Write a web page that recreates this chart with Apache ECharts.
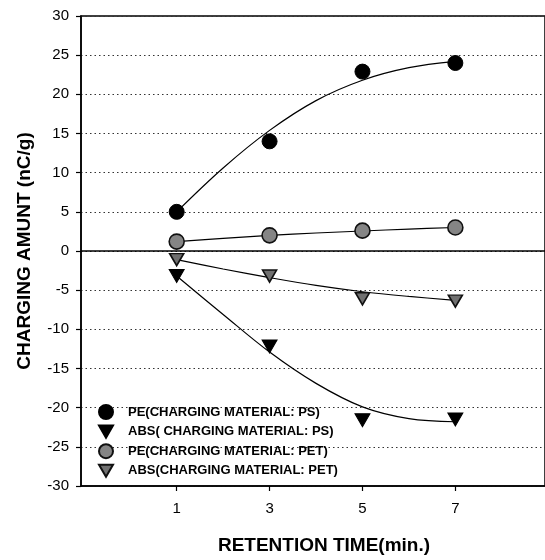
<!DOCTYPE html>
<html>
<head>
<meta charset="utf-8">
<script src="https://cdn.jsdelivr.net/npm/echarts@6/dist/echarts.min.js"></script>
<style>
html,body{margin:0;padding:0;background:#fff;}
#chart{width:545px;height:560px;}
</style>
</head>
<body>
<div id="chart"></div>
<script>
// ---- data ----
var times = [1, 3, 5, 7];
var pePS = [5.0, 14.0, 22.9, 24.0];
var absPS = [-3.2, -12.2, -21.6, -21.5];
var pePET = [1.2, 2.0, 2.6, 3.0];
var absPET = [-1.1, -3.2, -6.1, -6.4];

// fitted trend curves
var fitTimes = [1, 2, 3, 4, 5, 6, 7];
var pePSFit = [5.0, 10.6, 15.4, 19.2, 21.8, 23.4, 24.2];
var absPSFit = [-3.2, -8.1, -12.9, -16.9, -19.9, -21.4, -21.8];
var pePETFit = [1.2, 1.6, 2.0, 2.3, 2.55, 2.8, 3.0];
var absPETFit = [-1.1, -2.3, -3.4, -4.4, -5.2, -5.8, -6.3];

var xTicks = [1, 3, 5, 7];
var seriesNames = [
  'PE(CHARGING MATERIAL: PS)',
  'ABS( CHARGING MATERIAL: PS)',
  'PE(CHARGING MATERIAL: PET)',
  'ABS(CHARGING MATERIAL: PET)'
];

function pairs(xs, ys) { return xs.map(function (x, i) { return [x, ys[i]]; }); }

var triDown = 'path://M0,0L15,0L7.5,13Z';
var FONT = '"Liberation Sans", Arial, sans-serif';

function fitLine(ys) {
  return {
    type: 'line', data: pairs(fitTimes, ys), smooth: 0.35, symbol: 'none',
    lineStyle: { color: '#000', width: 1.2 }, silent: true, z: 2, legendHoverLink: false
  };
}

var chart = echarts.init(document.getElementById('chart'), null, { renderer: 'canvas' });
chart.setOption({
  animation: false,
  backgroundColor: '#fff',
  grid: { left: 81, right: -5, top: 16, bottom: 70, show: true, borderColor: '#000', borderWidth: 1.5, backgroundColor: 'transparent' },
  xAxis: {
    type: 'value', min: -1.06, max: 8.93,
    name: 'RETENTION TIME(min.)', nameLocation: 'middle', nameGap: 50,
    nameTextStyle: { fontFamily: FONT, fontWeight: 'bold', fontSize: 19, color: '#000', padding: [0, 0, 0, 22] },
    axisLine: { show: true, onZero: false, lineStyle: { color: '#000', width: 1.5 } },
    axisTick: { show: true, inside: false, length: 5, customValues: xTicks, lineStyle: { color: '#000', width: 1.2 } },
    axisLabel: { customValues: xTicks, margin: 15, fontFamily: FONT, fontSize: 15, color: '#000' },
    splitLine: { show: false }
  },
  yAxis: {
    type: 'value', min: -30, max: 30, interval: 5,
    name: 'CHARGING AMUNT (nC/g)', nameLocation: 'middle', nameGap: 47, nameRotate: 90,
    nameTextStyle: { fontFamily: FONT, fontWeight: 'bold', fontSize: 19, color: '#000' },
    axisLine: { show: true, onZero: false, lineStyle: { color: '#000', width: 1.5 } },
    axisTick: { show: true, inside: false, length: 5, lineStyle: { color: '#000', width: 1.2 } },
    axisLabel: { margin: 12, fontFamily: FONT, fontSize: 15, color: '#000' },
    splitLine: { show: true, lineStyle: { color: '#333', width: 1, type: [1.5, 3] } }
  },
  legend: {
    orient: 'vertical', left: 98, top: 404, padding: 0, itemWidth: 14, itemHeight: 14, itemGap: 4.5,
    textStyle: { fontFamily: FONT, fontWeight: 'bold', fontSize: 13, color: '#000', padding: [0, 0, 0, 10] },
    data: [
      { name: seriesNames[0], icon: 'circle' },
      { name: seriesNames[1], icon: triDown },
      { name: seriesNames[2], icon: 'circle' },
      { name: seriesNames[3], icon: triDown }
    ],
    selectedMode: false
  },
  series: [
    fitLine(pePSFit),
    fitLine(absPSFit),
    fitLine(pePETFit),
    fitLine(absPETFit),
    {
      type: 'line', data: pairs(fitTimes, fitTimes.map(function () { return null; })), symbol: 'none', silent: true,
      markLine: {
        silent: true, symbol: 'none', label: { show: false },
        lineStyle: { color: '#000', width: 1.5, type: 'solid' },
        data: [{ yAxis: 0 }]
      }
    },
    {
      name: seriesNames[0], type: 'scatter', data: pairs(times, pePS), symbol: 'circle', symbolSize: 15,
      itemStyle: { color: '#000', borderColor: '#000', borderWidth: 1, opacity: 1 }, z: 5
    },
    {
      name: seriesNames[1], type: 'scatter', data: pairs(times, absPS), symbol: triDown, symbolSize: [15, 13],
      itemStyle: { color: '#000', borderColor: '#000', borderWidth: 1, opacity: 1 }, z: 5
    },
    {
      name: seriesNames[2], type: 'scatter', data: pairs(times, pePET), symbol: 'circle', symbolSize: 15,
      itemStyle: { color: '#858585', borderColor: '#111', borderWidth: 1.6, opacity: 1 }, z: 5
    },
    {
      name: seriesNames[3], type: 'scatter', data: pairs(times, absPET), symbol: triDown, symbolSize: [14, 12],
      itemStyle: { color: '#707070', borderColor: '#111', borderWidth: 1.6, opacity: 1 }, z: 5
    }
  ]
});
</script>
</body>
</html>
